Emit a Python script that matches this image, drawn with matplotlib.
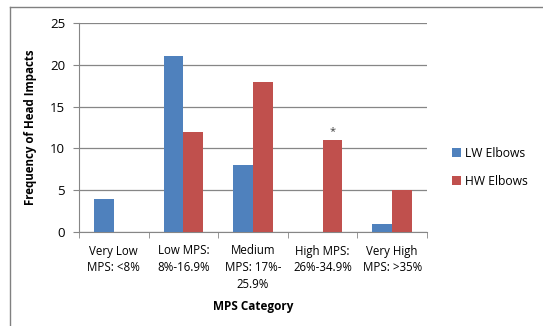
import numpy as np
import matplotlib.pyplot as plt
from matplotlib.lines import Line2D

# Data
categories = ['Very Low\nMPS: <8%', 'Low MPS:\n8%-16.9%', 'Medium\nMPS: 17%-\n25.9%',
              'High MPS:\n26%-34.9%', 'Very High\nMPS: >35%']
lw_elbows = [4, 21, 8, 0, 1]
hw_elbows = [0, 12, 18, 11, 5]
y_ticks = [0, 5, 10, 15, 20, 25]

blue = '#4F81BD'
red = '#C0504D'
grid_col = '#868686'

plt.rcParams['font.family'] = ['Open Sans', 'DejaVu Sans']

fig = plt.figure(figsize=(5.43, 3.26), dpi=100)
W, H = 543, 326
ax = fig.add_axes([79 / W, 1 - 232 / H, 348 / W, 209 / H])

x = np.arange(len(categories))
bw = 1 / 3.5
ax.bar(x - bw / 2, lw_elbows, bw, color=blue, label='LW Elbows', zorder=3)
ax.bar(x + bw / 2, hw_elbows, bw, color=red, label='HW Elbows', zorder=3)

# significance mark on High MPS, HW Elbows
ax.text(x[3] + bw / 2, hw_elbows[3] + 0.4, '*', ha='center', va='bottom',
        fontsize=8, color='#404040')

ax.set_xlim(-0.5, len(categories) - 0.5)
ax.set_ylim(0, 25)
ax.set_yticks(y_ticks)
ax.yaxis.grid(True, color=grid_col, linewidth=0.9, zorder=0)
ax.set_xticks(x)
ax.set_xticklabels(categories, fontsize=8.3, linespacing=1.35)
ax.tick_params(axis='x', length=0, pad=9)
# category boundary ticks
ax.set_xticks(np.arange(-0.5, len(categories)), minor=True)
ax.tick_params(axis='x', which='minor', length=4, color=grid_col, direction='out')
ax.tick_params(axis='y', labelsize=9.5, length=4, color=grid_col, pad=6)

for s in ['top', 'right']:
    ax.spines[s].set_visible(False)
for s in ['left', 'bottom']:
    ax.spines[s].set_color(grid_col)

ax.set_ylabel('Frequency of Head Impacts', fontsize=8.3, fontweight='bold', labelpad=9)
ax.set_xlabel('MPS Category', fontsize=8.5, fontweight='bold', labelpad=7)

ax.legend(loc='center left', bbox_to_anchor=(1.04, 0.31), frameon=False,
          fontsize=8.7, handlelength=0.8, handleheight=0.8, handletextpad=0.3,
          labelspacing=1.25)

# outer chart border (cut off on the right and bottom)
fig.add_artist(Line2D([10 / W, 10 / W], [0, 1 - 7 / H], color='#808080', lw=1,
                      transform=fig.transFigure))
fig.add_artist(Line2D([10 / W, 1], [1 - 7 / H, 1 - 7 / H], color='#808080', lw=1,
                      transform=fig.transFigure))

fig.savefig('out.png', dpi=100)
